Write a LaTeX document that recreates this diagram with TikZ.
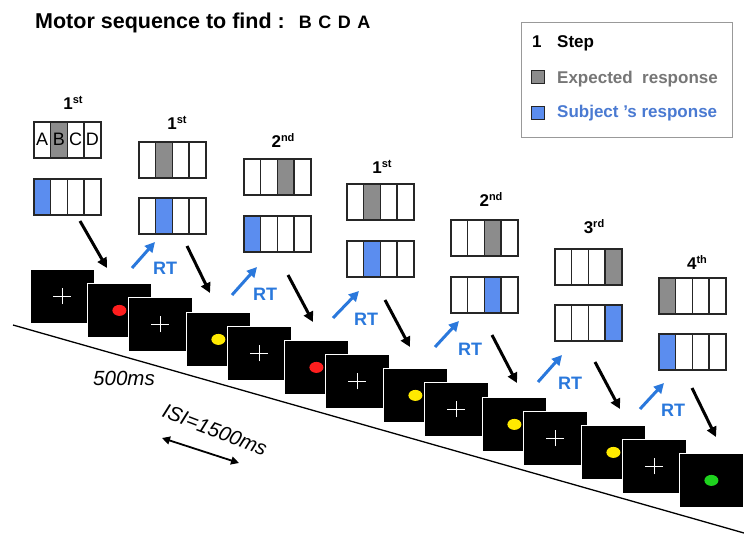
\documentclass[tikz,border=0pt]{standalone}
\usepackage{fontspec}
\setmainfont{Liberation Sans}
\usetikzlibrary{arrows.meta}

\definecolor{cellgray}{HTML}{8C8C8C}
\definecolor{cellblue}{HTML}{5B8DEF}
\definecolor{rtblue}{HTML}{2A78DC}
\definecolor{legendgray}{HTML}{767676}
\definecolor{legendblue}{HTML}{4A7AD2}
\definecolor{dotred}{HTML}{FF1E1E}
\definecolor{dotyellow}{HTML}{FFEA00}
\definecolor{dotgreen}{HTML}{1ED21E}

\tikzset{
  cell/.style={draw=black!85, line width=1.6pt, minimum width=16.75pt,
    minimum height=36pt, inner sep=0pt, anchor=north west, fill=white},
  screen/.style={fill=black, draw=white, line width=0.8pt, minimum width=64pt,
    minimum height=54pt, inner sep=0pt, anchor=north west},
  crossline/.style={draw=white, line width=1.7pt},
  steplabel/.style={inner sep=0pt, anchor=base,
    font=\bfseries\fontsize{17}{20}\selectfont},
  letter/.style={inner sep=0pt, font=\fontsize{18}{20}\selectfont},
  downarrow/.style={draw=black, line width=3pt,
    -{Triangle[length=10pt,width=10pt]}},
  rtarrow/.style={draw=rtblue, line width=3pt,
    -{Triangle[length=10pt,width=10pt]}},
  rtlabel/.style={inner sep=0pt, text=rtblue,
    font=\bfseries\fontsize{18}{20}\selectfont},
  legendtext/.style={inner sep=0pt, anchor=base west,
    font=\bfseries\fontsize{17}{20}\selectfont},
  legendsquare/.style={draw=black!85, line width=1.3pt, minimum width=13pt,
    minimum height=13pt, inner sep=0pt, anchor=north west},
  timefont/.style={inner sep=0pt, font=\itshape\fontsize{20.5}{24}\selectfont},
}

% raised ordinal suffix
\newcommand\ordsuffix[1]{\raisebox{5.5pt}{\fontsize{11}{12}\selectfont #1}}

% two rows of four cells: #1 name, #2 left x, #3 top of first row,
% #4 top of second row, #5 expected cell, #6 response cell
\newcommand\stepgroup[6]{%
  \foreach \k in {1,...,4}{
    \ifnum\k=#5\relax \def\cfill{cellgray}\else\def\cfill{white}\fi
    \node[cell, fill=\cfill] (#1e\k) at ({#2+(\k-1)*16.75},#3) {};
    \ifnum\k=#6\relax \def\cfill{cellblue}\else\def\cfill{white}\fi
    \node[cell, fill=\cfill] (#1r\k) at ({#2+(\k-1)*16.75},#4) {};
  }%
}

% screen with a fixation cross
\newcommand\crossscreen[3]{%
  \node[screen] (#1) at (#2,#3) {};
  \draw[crossline] ([xshift=-9pt]#1.center) -- ([xshift=9pt]#1.center);
  \draw[crossline] ([yshift=-8pt]#1.center) -- ([yshift=8pt]#1.center);
}
% screen with a coloured dot
\newcommand\dotscreen[4]{%
  \node[screen] (#1) at (#2,#3) {};
  \fill[#4] (#1.center) ellipse (7pt and 5.5pt);
}

\begin{document}
\begin{tikzpicture}[x=1pt,y=-1pt]
  \useasboundingbox (0,0) rectangle (744,535);
  \fill[white] (0,0) rectangle (744,535);

  % title
  \node[inner sep=0pt, anchor=base west,
    font=\bfseries\fontsize{21.5}{24}\selectfont] (title) at (35,29)
    {Motor sequence to find :\hspace{14pt}{\fontsize{18}{20}\selectfont
     B\hspace{6.5pt}C\hspace{6.5pt}D\hspace{6.5pt}A}};

  % legend
  \node[draw=black!40, line width=1.2pt, minimum width=211pt,
    minimum height=115pt, inner sep=0pt, anchor=north west] (legend) at (521,22) {};
  \node[legendtext] (legnum) at (532,48) {1};
  \node[legendtext] (legstep) at (557,48) {Step};
  \node[legendsquare, fill=cellgray] (legsqa) at (531,70) {};
  \node[legendtext, text=legendgray] (legexp) at (557,83) {Expected\ \ response};
  \node[legendsquare, fill=cellblue] (legsqb) at (531,106) {};
  \node[legendtext, text=legendblue] (legsub) at (557,117) {Subject 's response};

  % time axis
  \coordinate (ta) at (13,325);
  \coordinate (tb) at (744,533);
  \draw[line width=1.3pt] (ta) -- (tb);

  % step groups
  \stepgroup{ga}{33}{121}{178}{2}{1}
  \stepgroup{gb}{138}{141}{197}{2}{2}
  \stepgroup{gc}{243}{158}{215}{3}{1}
  \stepgroup{gd}{346}{183}{240}{2}{2}
  \stepgroup{ge}{450}{219}{276}{3}{3}
  \stepgroup{gf}{554}{248}{304}{4}{4}
  \stepgroup{gg}{658}{277}{333}{1}{1}

  \node[letter] (la) at (gae1.center) {A};
  \node[letter] (lb) at (gae2.center) {B};
  \node[letter] (lc) at (gae3.center) {C};
  \node[letter] (ld) at (gae4.center) {D};

  \node[steplabel] (sa) at (73,109) {1\ordsuffix{st}};
  \node[steplabel] (sb) at (177,129) {1\ordsuffix{st}};
  \node[steplabel] (sc) at (283,147) {2\ordsuffix{nd}};
  \node[steplabel] (sd) at (382,173) {1\ordsuffix{st}};
  \node[steplabel] (se) at (491,206) {2\ordsuffix{nd}};
  \node[steplabel] (sf) at (594,233) {3\ordsuffix{rd}};
  \node[steplabel] (sg) at (697,269) {4\ordsuffix{th}};

  % stimulus screens
  \crossscreen{s1}{30}{269}
  \dotscreen{s2}{87}{283}{dotred}
  \crossscreen{s3}{128}{297}
  \dotscreen{s4}{186}{312}{dotyellow}
  \crossscreen{s5}{227}{326}
  \dotscreen{s6}{284}{340}{dotred}
  \crossscreen{s7}{325}{354}
  \dotscreen{s8}{383}{368}{dotyellow}
  \crossscreen{s9}{424}{382}
  \dotscreen{s10}{482}{397}{dotyellow}
  \crossscreen{s11}{523}{411}
  \dotscreen{s12}{581}{425}{dotyellow}
  \crossscreen{s13}{622}{439}
  \dotscreen{s14}{679}{453}{dotgreen}

  % arrows from each step down to the screens
  \coordinate (da1) at (80,221);  \coordinate (db1) at (107,268);
  \coordinate (da2) at (187,246); \coordinate (db2) at (210,293);
  \coordinate (da3) at (288,275); \coordinate (db3) at (313,322);
  \coordinate (da4) at (385,300); \coordinate (db4) at (410,347);
  \coordinate (da5) at (492,335); \coordinate (db5) at (517,383);
  \coordinate (da6) at (595,362); \coordinate (db6) at (620,409);
  \coordinate (da7) at (692,388); \coordinate (db7) at (716,437);
  \foreach \i in {1,...,7}{\draw[downarrow] (da\i) -- (db\i);}

  % reaction time arrows
  \coordinate (ra1) at (132,268); \coordinate (rb1) at (155,242);
  \coordinate (ra2) at (232,295); \coordinate (rb2) at (257,267);
  \coordinate (ra3) at (333,318); \coordinate (rb3) at (359,291);
  \coordinate (ra4) at (435,347); \coordinate (rb4) at (459,321);
  \coordinate (ra5) at (538,382); \coordinate (rb5) at (562,355);
  \coordinate (ra6) at (640,409); \coordinate (rb6) at (664,383);
  \foreach \i in {1,...,6}{\draw[rtarrow] (ra\i) -- (rb\i);}
  \node[rtlabel] (rt1) at (165,268) {RT};
  \node[rtlabel] (rt2) at (265,294) {RT};
  \node[rtlabel] (rt3) at (366,319) {RT};
  \node[rtlabel] (rt4) at (470,349) {RT};
  \node[rtlabel] (rt5) at (570,383) {RT};
  \node[rtlabel] (rt6) at (673,410) {RT};

  % timing annotations
  \node[timefont] (dur) at (124,378) {500ms};
  \node[timefont, rotate=-21] (isi) at (215,430) {ISI=1500ms};
  \coordinate (ia) at (162,438);
  \coordinate (ib) at (239,463);
  \draw[line width=1.8pt, {Triangle[length=8pt,width=8pt]}-{Triangle[length=8pt,width=8pt]}] (ia) -- (ib);
\end{tikzpicture}
\end{document}
